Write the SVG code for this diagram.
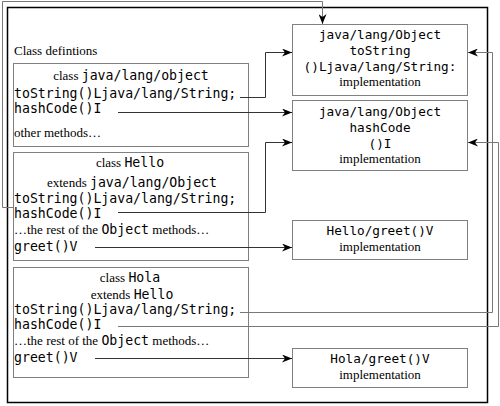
<svg xmlns="http://www.w3.org/2000/svg" width="500" height="406" viewBox="0 0 500 406">
<defs>
<style>
.box{fill:#fff;stroke:#808080;stroke-width:1}
.frame{fill:none;stroke:#000;stroke-width:1.5}
.ser{font-family:"Liberation Serif","Times New Roman",serif;font-size:13px;fill:#000}
.mono{font-family:"DejaVu Sans Mono",monospace;font-size:13.2px;fill:#000}
.monor{font-family:"DejaVu Sans Mono",monospace;font-size:12.7px;fill:#000}
.c{text-anchor:middle}
.con{fill:none;stroke:#333;stroke-width:1}
.gcon{fill:none;stroke:#777;stroke-width:1}
</style>
<marker id="ah" viewBox="0 0 10 8" refX="10" refY="4" markerWidth="10" markerHeight="8" markerUnits="userSpaceOnUse" orient="auto">
<path d="M0,0 L10,4 L0,8 L3,4 z" fill="#000"/>
</marker>
</defs>
<rect width="500" height="406" fill="#fff"/>
<rect class="frame" x="7.5" y="7.5" width="480" height="395"/>
<text class="ser" x="14" y="55">Class defintions</text>

<g id="objectClass">
<rect class="box" x="13.5" y="63.5" width="235" height="83"/>
<text class="ser c" x="131" y="80">class <tspan class="mono">java/lang/object</tspan></text>
<text class="mono" x="14" y="98">toString()Ljava/lang/String;</text>
<text class="mono" x="14" y="113">hashCode()I</text>
<text class="ser" x="14" y="137">other methods…</text>
</g>

<g id="helloClass">
<rect class="box" x="13.5" y="152.5" width="235" height="108"/>
<text class="ser c" x="130" y="167">class <tspan class="mono">Hello</tspan></text>
<text class="ser c" x="132" y="187">extends <tspan class="mono">java/lang/Object</tspan></text>
<text class="mono" x="14" y="203">toString()Ljava/lang/String;</text>
<text class="mono" x="14" y="218">hashCode()I</text>
<text class="ser" x="14" y="234">…the rest of the <tspan class="mono">Object</tspan> methods…</text>
<text class="mono" x="14" y="251">greet()V</text>
</g>

<g id="holaClass">
<rect class="box" x="13.5" y="267.5" width="235" height="110"/>
<text class="ser c" x="130" y="282">class <tspan class="mono">Hola</tspan></text>
<text class="ser c" x="132" y="299">extends <tspan class="mono">Hello</tspan></text>
<text class="mono" x="14" y="314">toString()Ljava/lang/String;</text>
<text class="mono" x="14" y="329">hashCode()I</text>
<text class="ser" x="14" y="345">…the rest of the <tspan class="mono">Object</tspan> methods…</text>
<text class="mono" x="14" y="362">greet()V</text>
</g>

<g id="objToString">
<rect class="box" x="292.5" y="24.5" width="175" height="71"/>
<text class="monor c" x="380" y="39">java/lang/Object</text>
<text class="monor c" x="380" y="55">toString</text>
<text class="monor c" x="380" y="71">()Ljava/lang/String:</text>
<text class="ser c" x="380" y="86">implementation</text>
</g>

<g id="objHashCode">
<rect class="box" x="292.5" y="100.5" width="175" height="70"/>
<text class="monor c" x="380" y="116">java/lang/Object</text>
<text class="monor c" x="380" y="132">hashCode</text>
<text class="monor c" x="380" y="148">()I</text>
<text class="ser c" x="380" y="163">implementation</text>
</g>

<g id="helloGreet">
<rect class="box" x="292.5" y="220.5" width="175" height="39"/>
<text class="monor c" x="380" y="235">Hello/greet()V</text>
<text class="ser c" x="380" y="251">implementation</text>
</g>

<g id="holaGreet">
<rect class="box" x="292.5" y="348.5" width="175" height="39"/>
<text class="monor c" x="380" y="363">Hola/greet()V</text>
<text class="ser c" x="380" y="379">implementation</text>
</g>

<g id="connectors">
<path class="con" d="M240,97.5 H265.5 V52.5 H292" marker-end="url(#ah)"/>
<path class="con" d="M118,112.5 H292" marker-end="url(#ah)"/>
<path class="gcon" d="M13,207.5 H2.5 V1.5 H322.5 V24" marker-end="url(#ah)"/>
<path class="con" d="M118,212.5 H265.5 V142.5 H292" marker-end="url(#ah)"/>
<path class="con" d="M95,247.5 H292" marker-end="url(#ah)"/>
<path class="gcon" d="M240,312.5 H492.5 V52.5 H468" marker-end="url(#ah)"/>
<path class="gcon" d="M118,326.5 H498.5 V142.5 H468" marker-end="url(#ah)"/>
<path class="con" d="M95,358.5 H292" marker-end="url(#ah)"/>
</g>
</svg>
